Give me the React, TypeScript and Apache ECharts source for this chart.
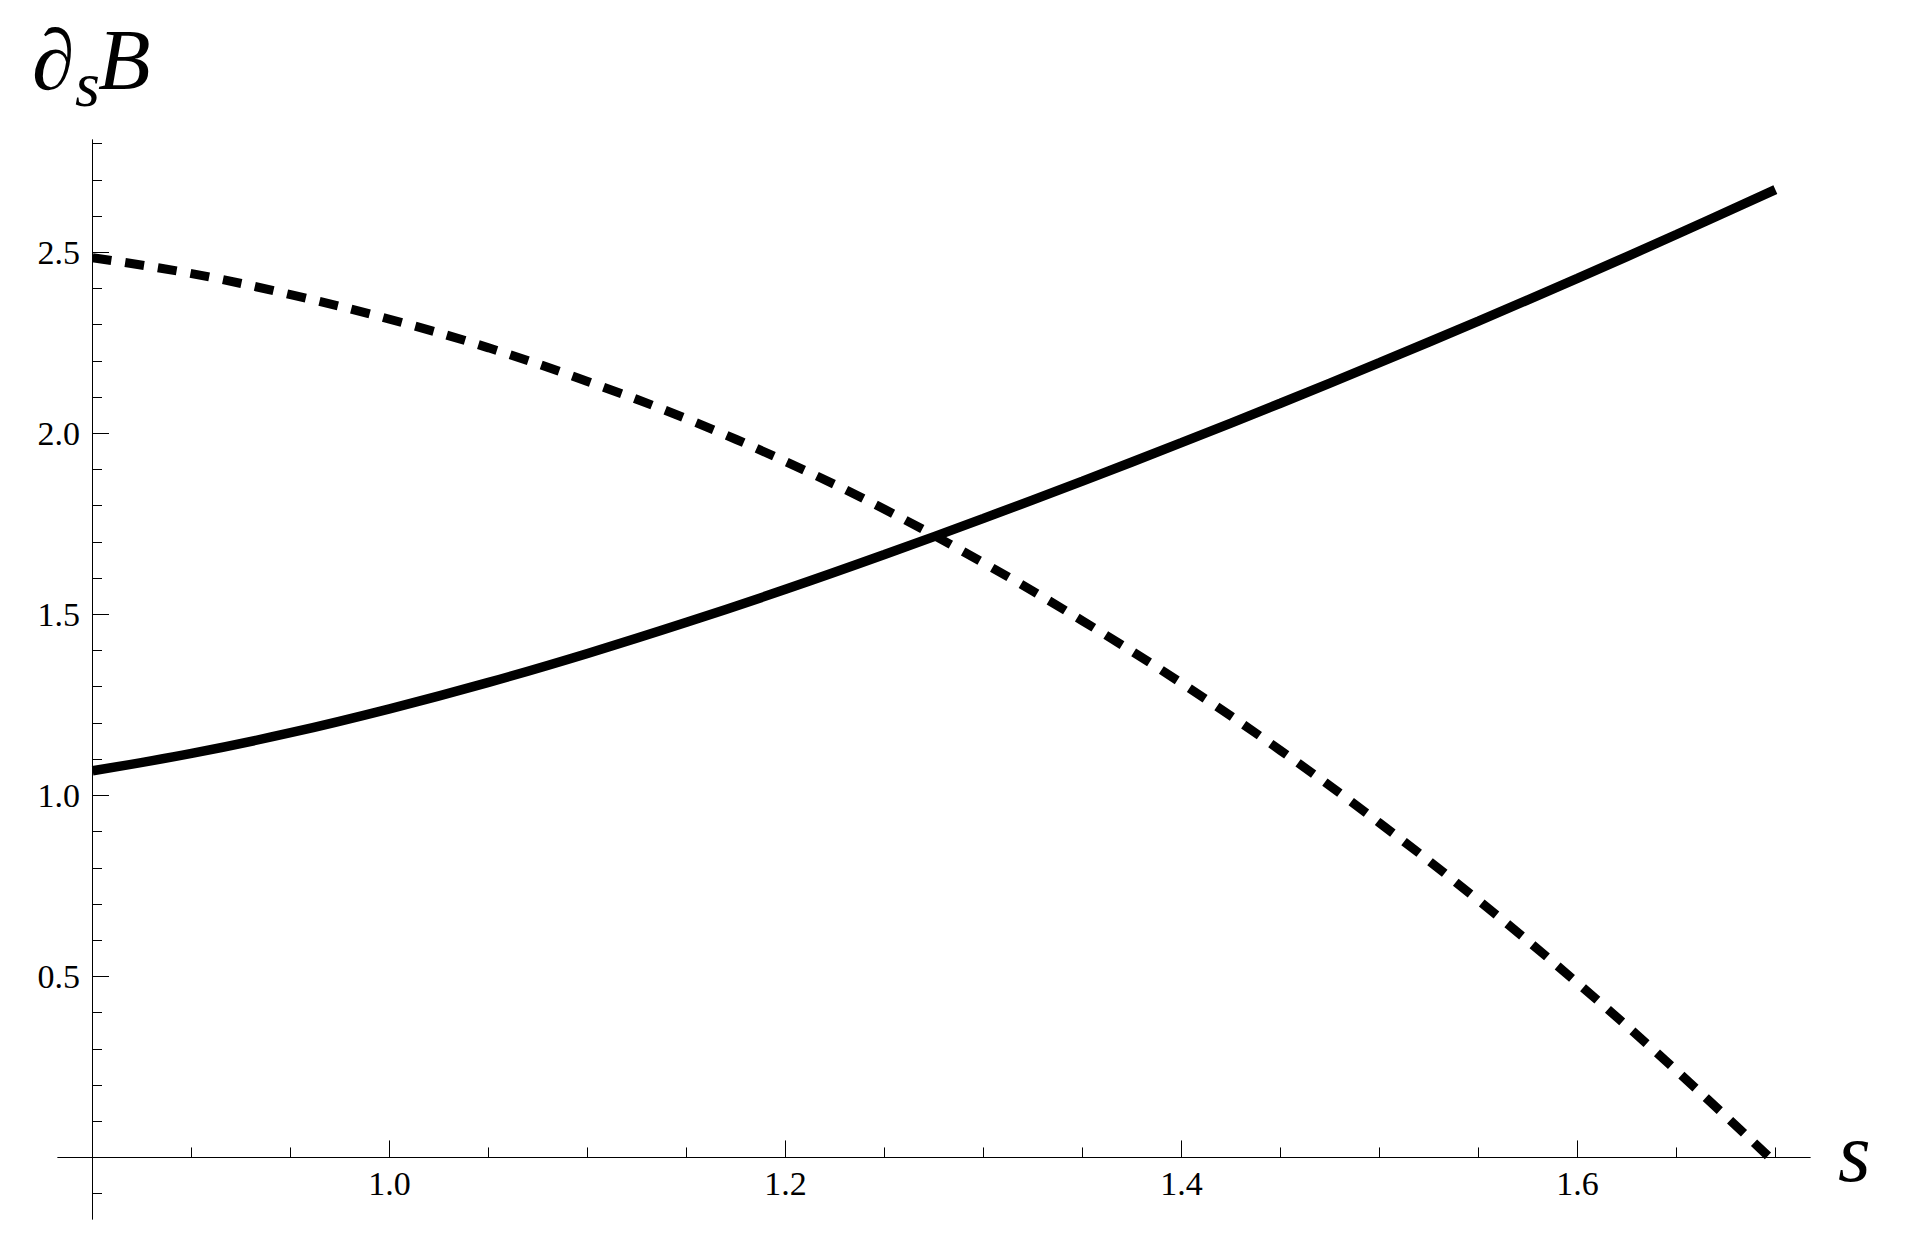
import React, { useEffect, useRef } from "react";
import * as echarts from "echarts";

// s values (x)
const sValues = [0.85, 0.9, 0.95, 1.0, 1.05, 1.1, 1.15, 1.2, 1.25, 1.3, 1.35, 1.4, 1.45, 1.5, 1.55, 1.6, 1.65, 1.7];
// solid curve
const solidValues = [1.068, 1.116, 1.173, 1.239, 1.312, 1.392, 1.478, 1.569, 1.665, 1.765, 1.868, 1.974, 2.083, 2.195, 2.31, 2.428, 2.549, 2.673];
// dashed curve
const dashedValues = [2.485, 2.441, 2.383, 2.315, 2.236, 2.143, 2.04, 1.922, 1.79, 1.642, 1.482, 1.31, 1.124, 0.924, 0.71, 0.482, 0.24, -0.015];

const xMajorTicks = [1.0, 1.2, 1.4, 1.6];
const xMinorTicks = [0.9, 0.95, 1.05, 1.1, 1.15, 1.25, 1.3, 1.35, 1.45, 1.5, 1.55, 1.65, 1.7];
const yMajorTicks = [0.5, 1.0, 1.5, 2.0, 2.5];
const yMinorTicks = [-0.1, 0.1, 0.2, 0.3, 0.4, 0.6, 0.7, 0.8, 0.9, 1.1, 1.2, 1.3, 1.4, 1.6, 1.7, 1.8, 1.9, 2.1, 2.2, 2.3, 2.4, 2.6, 2.7, 2.8];

const X_MIN = 0.8325;
const X_MAX = 1.7175;
const Y_MIN = -0.17;
const Y_MAX = 2.81;

const FONT = "'Liberation Serif', 'Times New Roman', serif";

export default function App() {
  const ref = useRef<HTMLDivElement>(null);

  useEffect(() => {
    if (!ref.current) return;
    const chart = echarts.init(ref.current, undefined, { renderer: "svg" });

    const solidData = sValues.map((s, i) => [s, solidValues[i]]);
    const dashedData = sValues.map((s, i) => [s, dashedValues[i]]);

    const axisLineStyle = { color: "#000", width: 1 };

    const option: any = {
      animation: false,
      backgroundColor: "#fff",
      grid: { left: 58, right: 97, top: 140, bottom: 37, containLabel: false },
      xAxis: [
        {
          type: "value",
          position: "bottom",
          min: X_MIN,
          max: X_MAX,
          axisLine: { show: true, onZero: true, onZeroAxisIndex: 0, lineStyle: axisLineStyle },
          axisTick: { show: true, inside: true, length: 17, customValues: xMajorTicks, lineStyle: axisLineStyle },
          axisLabel: {
            show: true,
            customValues: xMajorTicks,
            formatter: (v: number) => v.toFixed(1),
            fontFamily: FONT,
            fontSize: 34,
            color: "#000",
            margin: -53,
          },
          splitLine: { show: false },
        },
        {
          type: "value",
          position: "bottom",
          min: X_MIN,
          max: X_MAX,
          axisLine: { show: true, onZero: true, onZeroAxisIndex: 0, lineStyle: axisLineStyle },
          axisTick: { show: true, inside: true, length: 10, customValues: xMinorTicks, lineStyle: axisLineStyle },
          axisLabel: { show: false },
          splitLine: { show: false },
        },
      ],
      yAxis: [
        {
          type: "value",
          position: "left",
          offset: -34,
          min: Y_MIN,
          max: Y_MAX,
          axisLine: { show: true, onZero: false, lineStyle: axisLineStyle },
          axisTick: { show: true, inside: true, length: 17, customValues: yMajorTicks, lineStyle: axisLineStyle },
          axisLabel: {
            show: true,
            customValues: yMajorTicks,
            formatter: (v: number) => v.toFixed(1),
            fontFamily: FONT,
            fontSize: 34,
            color: "#000",
            margin: 12,
          },
          splitLine: { show: false },
        },
        {
          type: "value",
          position: "left",
          offset: -34,
          min: Y_MIN,
          max: Y_MAX,
          axisLine: { show: true, onZero: false, lineStyle: axisLineStyle },
          axisTick: { show: true, inside: true, length: 10, customValues: yMinorTicks, lineStyle: axisLineStyle },
          axisLabel: { show: false },
          splitLine: { show: false },
        },
      ],
      series: [
        {
          type: "line",
          xAxisIndex: 0,
          yAxisIndex: 0,
          data: dashedData,
          showSymbol: false,
          symbol: "none",
          smooth: 0.4,
          lineStyle: { color: "#000", width: 9, type: [19, 14], cap: "butt" },
        },
        {
          type: "line",
          xAxisIndex: 0,
          yAxisIndex: 0,
          data: solidData,
          showSymbol: false,
          symbol: "none",
          smooth: 0.4,
          lineStyle: { color: "#000", width: 9.5, type: "solid", cap: "butt" },
        },
      ],
      graphic: [
        {
          type: "text",
          x: 32,
          y: 60,
          style: { text: "∂", fontSize: 86, fontFamily: FONT, fontStyle: "italic", fill: "#000", align: "left", verticalAlign: "middle" },
        },
        {
          type: "text",
          x: 75,
          y: 84,
          style: { text: "s", fontSize: 64, fontFamily: FONT, fontStyle: "italic", fill: "#000", align: "left", verticalAlign: "middle" },
        },
        {
          type: "text",
          x: 98,
          y: 60,
          style: { text: "B", fontSize: 86, fontFamily: FONT, fontStyle: "italic", fill: "#000", align: "left", verticalAlign: "middle" },
        },
        {
          type: "text",
          x: 1838,
          y: 1152,
          style: { text: "s", fontSize: 84, fontFamily: FONT, fontStyle: "italic", fill: "#000", align: "left", verticalAlign: "middle" },
        },
      ],
    };

    chart.setOption(option);
    return () => chart.dispose();
  }, []);

  return <div ref={ref} style={{ position: "absolute", left: 0, top: 0, width: 1907, height: 1256 }} />;
}
